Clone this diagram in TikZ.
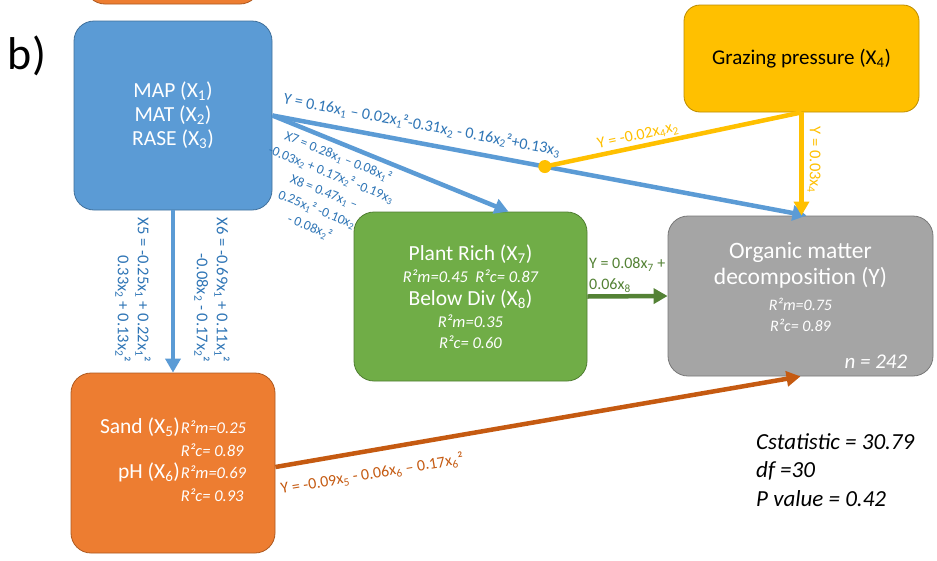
\documentclass[tikz,border=0pt]{standalone}
\usepackage{fontspec}
\setmainfont{Carlito}
\usetikzlibrary{arrows.meta,calc}
\definecolor{climblue}{HTML}{5B9BD5}
\definecolor{climedge}{HTML}{41719C}
\definecolor{eqblue}{HTML}{2E75B6}
\definecolor{grazeyellow}{HTML}{FFC000}
\definecolor{grazeedge}{HTML}{BC8C00}
\definecolor{plantgreen}{HTML}{70AD47}
\definecolor{plantedge}{HTML}{507E32}
\definecolor{plantarrow}{HTML}{548235}
\definecolor{decompgray}{HTML}{A5A5A5}
\definecolor{decompedge}{HTML}{787878}
\definecolor{soilorange}{HTML}{ED7D31}
\definecolor{soiledge}{HTML}{AE5A21}
\definecolor{soilarrow}{HTML}{C55A11}
\newcommand{\sbs}[1]{\textsubscript{#1}}
\newcommand{\boxfont}{\fontsize{21.5}{24}\selectfont}
\newcommand{\rsq}{\fontsize{16.5}{18}\selectfont\itshape}
\newcommand{\eqfont}{\fontsize{16}{18}\selectfont}
\tikzset{
  varbox/.style={draw, line width=0.8pt, rounded corners=20pt, align=center, text=white, font=\boxfont, inner sep=0pt},
  sempath/.style={line width=4.5pt, -{Triangle[length=14pt,width=15pt]}},
  eqlabel/.style={font=\eqfont, align=center, inner sep=0pt}
}
\begin{document}
\begin{tikzpicture}[x=1pt, y=-1pt]
		%%%%% FRAME %%%%%
		\useasboundingbox (0,0) rectangle (937,560);
		\clip (0,0) rectangle (937,560);
		\fill[white] (0,0) rectangle (937,560);
		
		%%%%% BOXES %%%%%
		\node[varbox, fill=soilorange, draw=soiledge, minimum width=175pt, minimum height=80pt] (prev) at (172.5,-36) {};
		\node[font=\fontsize{46}{46}\selectfont, inner sep=0pt] (panel) at (27,56) {b)};
		
		\node[varbox, fill=climblue, draw=climedge, minimum width=198pt, minimum height=189pt] (clim) at (173,115.5) {MAP (X\sbs{1})\\ MAT (X\sbs{2})\\ RASE (X\sbs{3})};
		\node[varbox, fill=grazeyellow, draw=grazeedge, text=black, font=\fontsize{21}{24}\selectfont, rounded corners=16pt, minimum width=235pt, minimum height=107pt] (graze) at (801.5,58.5) {Grazing pressure (X\sbs{4})};
		\node[varbox, fill=plantgreen, draw=plantedge, font=\fontsize{21.5}{22.5}\selectfont, minimum width=233pt, minimum height=169pt] (plant) at (470.5,296.5) {Plant Rich (X\sbs{7})\\ {\rsq R²m=0.45~~R²c= 0.87}\\ Below Div (X\sbs{8})\\ {\rsq R²m=0.35}\\[-2pt] {\rsq R²c= 0.60}};
		\node[varbox, fill=decompgray, draw=decompedge, font=\fontsize{23.5}{26}\selectfont, minimum width=265pt, minimum height=160pt] (decomp) at (800.5,296) {Organic matter\\ decomposition (Y)\\ {\fontsize{16}{18}\selectfont\itshape R²m=0.75}\\[-5pt] {\fontsize{16}{18}\selectfont\itshape R²c= 0.89}\\[-8pt] \mbox{}};
		\node[varbox, fill=soilorange, draw=soiledge, font=\fontsize{21.5}{22.5}\selectfont, minimum width=204pt, minimum height=180pt] (soil) at (173,463) {\begin{tabular}{@{}r@{\hspace{1pt}}l@{}}
			Sand (X\sbs{5}) & {\rsq R²m=0.25}\\
			& {\rsq R²c= 0.89}\\
			pH (X\sbs{6}) & {\rsq R²m=0.69}\\
			& {\rsq R²c= 0.93}
		\end{tabular}};
		
		\node[font=\fontsize{21}{22}\selectfont\itshape, text=white, anchor=south east, inner sep=0pt] (nobs) at ($(decomp.south east)+(-26,-8)$) {n = 242};
		\node[font=\fontsize{23}{28.5}\selectfont\itshape, align=left, anchor=north west, inner sep=0pt] (fit) at (756,433) {Cstatistic = 30.79\\ df =30\\ P value = 0.42};
		
		%%%%% PATHS %%%%%
		\draw[sempath, climblue] (clim.east) -- ([xshift=6pt]decomp.north);
		\draw[sempath, climblue] (clim.east) -- ([xshift=38pt]plant.north);
		\draw[sempath, climblue] (clim.south) -- (soil.north);
		
		\coordinate (gz) at ($(clim.east)!0.51!([xshift=6pt]decomp.north)$);
		\draw[line width=4.5pt, grazeyellow] (graze.south) -- (gz);
		\fill[grazeyellow] (gz) circle (6.5pt);
		\draw[sempath, grazeyellow] (graze.south) -- (graze.south |- decomp.north);
		
		\draw[sempath, plantarrow] (plant.east) -- (decomp.west);
		\draw[sempath, soilarrow] ([yshift=-4pt]soil.east) -- (decomp.south);
		
		%%%%% LABELS %%%%%
		\node[eqlabel, text=eqblue, rotate=-10.6] (eqdecomp) at (422,125) {Y = 0.16x\sbs{1} – 0.02x\sbs{1}²-0.31x\sbs{2} - 0.16x\sbs{2}²+0.13x\sbs{3}};
		\node[eqlabel, text=eqblue, font=\fontsize{13.5}{19}\selectfont, rotate=-22] (eqplant) at (324,192) {X7 = 0.28x\sbs{1} – 0.08x\sbs{1}²\\ -0.03x\sbs{2} + 0.17x\sbs{2}² -0.19x\sbs{3}\\ X8 = 0.47x\sbs{1} –\\ 0.25x\sbs{1}² -0.10x\sbs{2}\\ - 0.08x\sbs{2}²};
		\node[eqlabel, text=eqblue, font=\fontsize{16.5}{20}\selectfont, align=right, rotate=-90] (eqsand) at (133,290) {X5 = -0.25x\sbs{1} + 0.22x\sbs{1}²\\ 0.33x\sbs{2} + 0.13x\sbs{2}²};
		\node[eqlabel, text=eqblue, font=\fontsize{16.5}{20}\selectfont, align=right, rotate=-90] (eqph) at (212,290) {X6 = -0.69x\sbs{1} + 0.11x\sbs{1}²\\ -0.08x\sbs{2} - 0.17x\sbs{2}²};
		
		\node[eqlabel, text=grazeyellow, rotate=12] (eqmix) at (638,136) {Y = -0.02x\sbs{4}x\sbs{2}};
		\node[eqlabel, text=grazeyellow, font=\fontsize{16.5}{18}\selectfont, rotate=-90] (eqgraze) at (814,160) {Y = 0.03x\sbs{4}};
		\node[eqlabel, text=plantarrow, font=\fontsize{16}{21}\selectfont, align=left, anchor=west] (eqrich) at (589,275) {Y = 0.08x\sbs{7} +\\ 0.06x\sbs{8}};
		\node[eqlabel, text=soilarrow, rotate=9.4] (eqsoil) at (372,474) {Y = -0.09x\sbs{5} - 0.06x\sbs{6} – 0.17x\sbs{6}²};
		
		%%%%% END %%%%%
	\end{tikzpicture}
\end{document}
